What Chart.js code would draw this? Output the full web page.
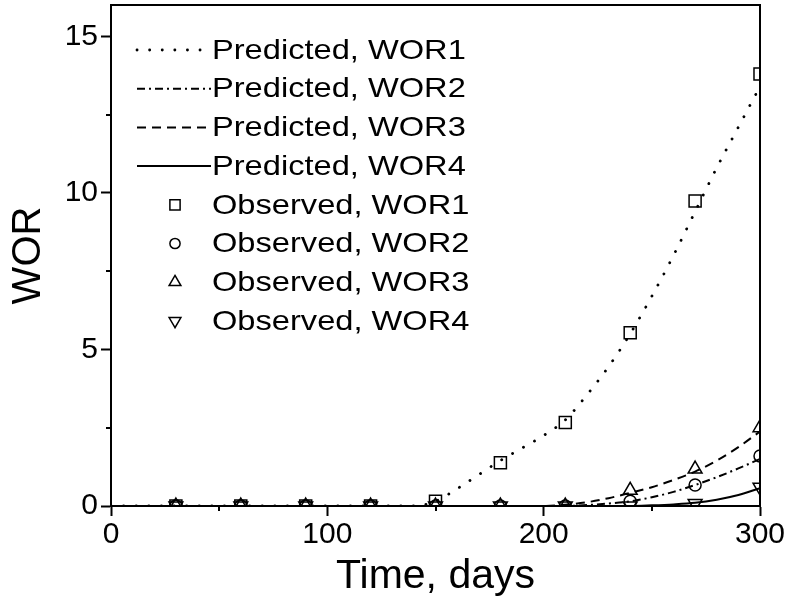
<!DOCTYPE html>
<html>
<head>
<meta charset="utf-8">
<script src="https://cdn.jsdelivr.net/npm/chart.js"></script>
<style>
  html, body { margin: 0; padding: 0; background: #fff; }
</style>
</head>
<body>
<canvas id="myChart" width="790" height="601"></canvas>
<script>
// OBSERVED DATA (days vs WOR)
const obsDays = [30, 60, 90, 120, 150, 180, 210, 240, 270, 300];
const obsWOR1 = [0, 0, 0, 0, 0.15, 1.38, 2.67, 5.53, 9.74, 13.8];
const obsWOR2 = [0, 0, 0, 0, 0, 0, 0, 0.15, 0.67, 1.6];
const obsWOR3 = [0, 0, 0, 0, 0, 0, 0, 0.5, 1.18, 2.5];
const obsWOR4 = [0, 0, 0, 0, 0, 0, 0, 0, 0.08, 0.6];

// PREDICTED CURVES, read every 10 days
const predDays = [0, 10, 20, 30, 40, 50, 60, 70, 80, 90, 100, 110, 120, 130, 140,
                  150, 160, 170, 180, 190, 200, 210, 220, 230, 240, 250, 260, 270, 280, 290, 300];
const predWOR1 = [0, 0, 0, 0, 0, 0, 0, 0, 0, 0, 0, 0, 0, 0, 0,
                  0.15, 0.55, 1.0, 1.45, 1.85, 2.25, 2.75, 3.55, 4.45, 5.5, 6.7, 8.0, 9.4, 10.8, 12.1, 13.4];
const predWOR2 = [0, 0, 0, 0, 0, 0, 0, 0, 0, 0, 0, 0, 0, 0, 0,
                  0, 0, 0, 0, 0, 0, 0, 0.03, 0.08, 0.15, 0.28, 0.45, 0.67, 0.92, 1.2, 1.5];
const predWOR3 = [0, 0, 0, 0, 0, 0, 0, 0, 0, 0, 0, 0, 0, 0, 0,
                  0, 0, 0, 0, 0, 0, 0.04, 0.12, 0.25, 0.42, 0.6, 0.83, 1.1, 1.45, 1.88, 2.38];
const predWOR4 = [0, 0, 0, 0, 0, 0, 0, 0, 0, 0, 0, 0, 0, 0, 0,
                  0, 0, 0, 0, 0, 0, 0, 0, 0, 0, 0.02, 0.05, 0.1, 0.2, 0.35, 0.57];

// AXES
const xTicks = [0, 100, 200, 300];
const xMinorTicks = [50, 150, 250];
const yTicks = [0, 5, 10, 15];
const yMinorTicks = [2.5, 7.5, 12.5];

const seriesLabels = [
  "Predicted, WOR1", "Predicted, WOR2", "Predicted, WOR3", "Predicted, WOR4",
  "Observed, WOR1", "Observed, WOR2", "Observed, WOR3", "Observed, WOR4"
];

const FONT = "'Liberation Sans', Arial, sans-serif";

function pairs(xs, ys) {
  return xs.map((x, i) => ({ x: x, y: ys[i] }));
}

function lineSet(label, ys, dash, cap, width) {
  return {
    label: label,
    data: pairs(predDays, ys),
    borderColor: "#000",
    borderWidth: width || 2,
    borderDash: dash,
    borderCapStyle: cap || "butt",
    pointRadius: 0,
    pointHoverRadius: 0,
    cubicInterpolationMode: "monotone",
    fill: false
  };
}

function pointSet(label, ys, style, radius, rotation) {
  return {
    label: label,
    data: pairs(obsDays, ys),
    showLine: false,
    borderColor: "#000",
    backgroundColor: "rgba(0,0,0,0)",
    borderWidth: 1.5,
    pointStyle: style,
    pointRadius: radius,
    pointRotation: rotation || 0,
    pointBorderWidth: 1.5,
    pointBackgroundColor: "rgba(0,0,0,0)",
    pointBorderColor: "#000"
  };
}

const datasets = [
  lineSet(seriesLabels[0], predWOR1, [0.1, 12.5], "round", 2.8),
  lineSet(seriesLabels[1], predWOR2, [8, 4, 2, 4]),
  lineSet(seriesLabels[2], predWOR3, [9, 6]),
  lineSet(seriesLabels[3], predWOR4, []),
  pointSet(seriesLabels[4], obsWOR1, "rect", 8.5),
  pointSet(seriesLabels[5], obsWOR2, "circle", 6),
  pointSet(seriesLabels[6], obsWOR3, "triangle", 8),
  pointSet(seriesLabels[7], obsWOR4, "triangle", 8, 180)
];

// frame + minor ticks
const framePlugin = {
  id: "frame",
  afterDraw(chart) {
    const ctx = chart.ctx;
    const a = chart.chartArea;
    const xs = chart.scales.x;
    const ys = chart.scales.y;
    ctx.save();
    ctx.strokeStyle = "#000";
    ctx.lineWidth = 2;
    ctx.setLineDash([]);
    ctx.strokeRect(a.left, a.top, a.right - a.left, a.bottom - a.top);
    ctx.beginPath();
    xMinorTicks.forEach((v) => {
      const px = Math.round(xs.getPixelForValue(v));
      ctx.moveTo(px, a.bottom);
      ctx.lineTo(px, a.bottom + 5);
    });
    yMinorTicks.forEach((v) => {
      const py = Math.round(ys.getPixelForValue(v));
      ctx.moveTo(a.left, py);
      ctx.lineTo(a.left - 5, py);
    });
    ctx.stroke();
    ctx.restore();
  }
};

// legend drawn inside the plot area
const legendPlugin = {
  id: "insideLegend",
  afterDraw(chart) {
    const ctx = chart.ctx;
    ctx.save();
    chart.data.datasets.forEach((ds, i) => {
      const y = 50 + i * 38.7;
      ctx.strokeStyle = "#000";
      ctx.fillStyle = "rgba(0,0,0,0)";
      if (ds.showLine !== false) {
        ctx.beginPath();
        ctx.setLineDash(ds.borderDash);
        ctx.lineCap = ds.borderCapStyle;
        ctx.lineWidth = ds.borderWidth;
        ctx.moveTo(137, y);
        ctx.lineTo(211, y);
        ctx.stroke();
      } else {
        ctx.setLineDash([]);
        ctx.lineCap = "butt";
        ctx.lineWidth = ds.pointBorderWidth;
        Chart.helpers.drawPoint(ctx, {
          pointStyle: ds.pointStyle,
          rotation: ds.pointRotation,
          radius: ds.pointRadius * 0.85,
          borderWidth: ds.pointBorderWidth
        }, 175, y);
      }
      ctx.setLineDash([]);
      ctx.fillStyle = "#000";
      ctx.font = "28px " + FONT;
      ctx.textBaseline = "middle";
      ctx.textAlign = "left";
      ctx.save();
      ctx.translate(212, y + 1);
      ctx.scale(1.165, 1);
      ctx.fillText(ds.label, 0, 0);
      ctx.restore();
    });
    ctx.restore();
  }
};

new Chart(document.getElementById("myChart"), {
  type: "line",
  data: { datasets: datasets },
  options: {
    responsive: false,
    animation: false,
    layout: { autoPadding: false, padding: { top: 5, right: 30, left: 0, bottom: 0 } },
    plugins: {
      legend: { display: false },
      tooltip: { enabled: false }
    },
    scales: {
      x: {
        type: "linear",
        min: 0,
        max: 300,
        afterBuildTicks: (scale) => { scale.ticks = xTicks.map((v) => ({ value: v })); },
        afterFit: (scale) => {
          scale.height = 95;
          scale.paddingLeft = 0;
          scale.paddingRight = 0;
        },
        border: { display: true, color: "#000", width: 2 },
        grid: { drawOnChartArea: false, drawTicks: true, tickLength: 10, tickColor: "#000", tickWidth: 2 },
        ticks: { color: "#000", padding: 1, maxRotation: 0, font: { family: FONT, size: 30 } },
        title: {
          display: true,
          text: "Time, days",
          color: "#000",
          font: { family: FONT, size: 41, lineHeight: 1.2 },
          padding: { top: 0, bottom: 0 }
        }
      },
      y: {
        type: "linear",
        min: 0,
        max: 16,
        afterBuildTicks: (scale) => { scale.ticks = yTicks.map((v) => ({ value: v })); },
        afterFit: (scale) => {
          scale.width = 111;
          scale.paddingTop = 0;
          scale.paddingBottom = 0;
        },
        border: { display: true, color: "#000", width: 2 },
        grid: { drawOnChartArea: false, drawTicks: true, tickLength: 10, tickColor: "#000", tickWidth: 2 },
        ticks: { color: "#000", padding: 3, font: { family: FONT, size: 30 } },
        title: {
          display: true,
          text: "WOR",
          color: "#000",
          font: { family: FONT, size: 40, lineHeight: 1.2 },
          padding: { top: 5, bottom: 0 }
        }
      }
    }
  },
  plugins: [framePlugin, legendPlugin]
});
</script>
</body>
</html>
